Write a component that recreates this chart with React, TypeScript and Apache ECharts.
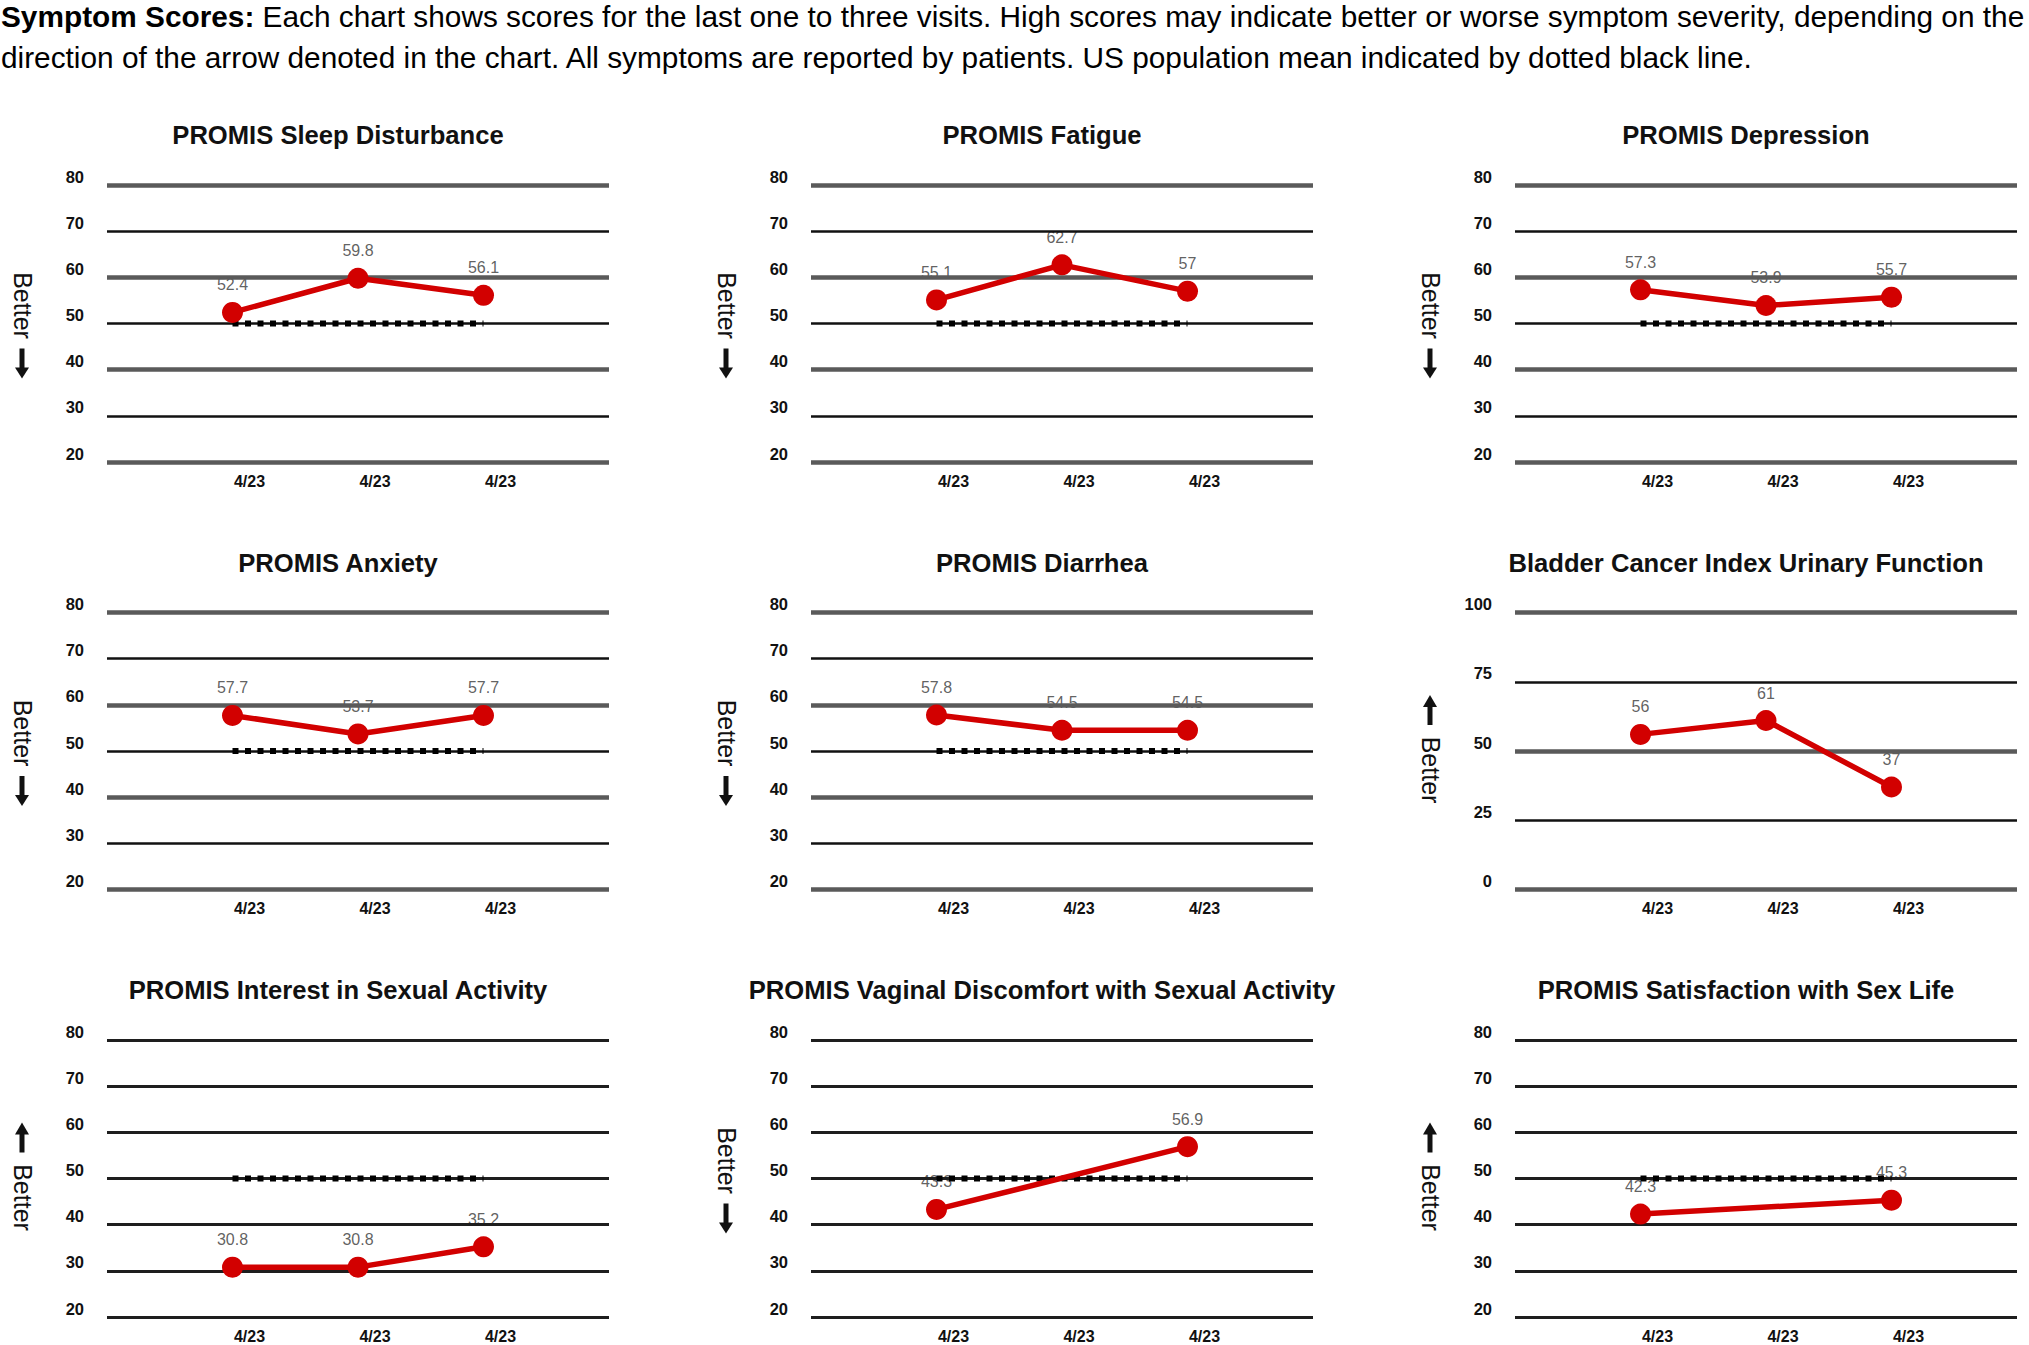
import React, { useEffect, useRef } from 'react';
import * as echarts from 'echarts';

// ---------- data ----------
const visitLabels = ['4/23', '4/23', '4/23'];
const sleepDisturbance = [52.4, 59.8, 56.1];
const fatigue = [55.1, 62.7, 57];
const depression = [57.3, 53.9, 55.7];
const anxiety = [57.7, 53.7, 57.7];
const diarrhea = [57.8, 54.5, 54.5];
const urinaryFunction = [56, 61, 37];
const sexualInterest = [30.8, 30.8, 35.2];
const vaginalDiscomfort = [43.3, null, 56.9];
const sexSatisfaction = [42.3, null, 45.3];
const populationMean = 50;
const promisScale = { min: 20, max: 80, interval: 10 };
const bciScale = { min: 0, max: 100, interval: 25 };

const headerLine1 =
  '{b|Symptom Scores:} Each chart shows scores for the last one to three visits. High scores may indicate better or worse symptom severity, depending on the';
const headerLine2 =
  'direction of the arrow denoted in the chart. All symptoms are reported by patients. US population mean indicated by dotted black line.';

type Panel = {
  title: string;
  values: (number | null)[];
  better: 'up' | 'down';
  scale: { min: number; max: number; interval: number };
  mean: boolean;
};

const panels: Panel[] = [
  { title: 'PROMIS Sleep Disturbance', values: sleepDisturbance, better: 'down', scale: promisScale, mean: true },
  { title: 'PROMIS Fatigue', values: fatigue, better: 'down', scale: promisScale, mean: true },
  { title: 'PROMIS Depression', values: depression, better: 'down', scale: promisScale, mean: true },
  { title: 'PROMIS Anxiety', values: anxiety, better: 'down', scale: promisScale, mean: true },
  { title: 'PROMIS Diarrhea', values: diarrhea, better: 'down', scale: promisScale, mean: true },
  { title: 'Bladder Cancer Index Urinary Function', values: urinaryFunction, better: 'up', scale: bciScale, mean: false },
  { title: 'PROMIS Interest in Sexual Activity', values: sexualInterest, better: 'up', scale: promisScale, mean: true },
  { title: 'PROMIS Vaginal Discomfort with Sexual Activity', values: vaginalDiscomfort, better: 'down', scale: promisScale, mean: true },
  { title: 'PROMIS Satisfaction with Sex Life', values: sexSatisfaction, better: 'up', scale: promisScale, mean: true },
];

// ---------- layout / style ----------
const FONT = '"Liberation Sans", Arial, Helvetica, sans-serif';
const RED = '#d20000';
const GRID_LEFT0 = 107;
const COL_STEP = 704;
const GRID_TOP0 = 185;
const ROW_STEP = 427.5;
const GRID_W = 502;
const GRID_H = 277;

function buildOption() {
  const grid: any[] = [];
  const xAxis: any[] = [];
  const yAxis: any[] = [];
  const series: any[] = [];
  const graphic: any[] = [];

  graphic.push({
    type: 'text',
    x: 1,
    y: 16,
    style: {
      text: headerLine1,
      font: `29.8px ${FONT}`,
      fill: '#000',
      textAlign: 'left',
      textVerticalAlign: 'middle',
      rich: { b: { font: `bold 29.8px ${FONT}`, fill: '#000' } },
    },
  });
  graphic.push({
    type: 'text',
    x: 1,
    y: 57.5,
    style: {
      text: headerLine2,
      font: `29.8px ${FONT}`,
      fill: '#000',
      textAlign: 'left',
      textVerticalAlign: 'middle',
    },
  });

  panels.forEach((p, i) => {
    const col = i % 3;
    const row = Math.floor(i / 3);
    const left = GRID_LEFT0 + col * COL_STEP;
    const top = GRID_TOP0 + row * ROW_STEP;
    const cy = top + GRID_H / 2;

    grid.push({ left, top, width: GRID_W, height: GRID_H });

    xAxis.push({
      gridIndex: i,
      type: 'value',
      min: 0,
      max: 4,
      interval: 1,
      axisLine: { show: false },
      axisTick: { show: false },
      splitLine: { show: false },
      axisLabel: {
        formatter: (v: number) => (v >= 1 && v <= 3 ? visitLabels[v - 1] : ''),
        fontFamily: FONT,
        fontSize: 16,
        fontWeight: 'bold',
        color: '#111',
        margin: 11,
        padding: [0, 0, 0, 34],
      },
    });

    const yIndex = yAxis.length;
    yAxis.push({
      gridIndex: i,
      type: 'value',
      min: p.scale.min,
      max: p.scale.max,
      interval: p.scale.interval,
      z: 2,
      axisLine: { show: false },
      axisTick: { show: false },
      axisLabel: {
        fontFamily: FONT,
        fontSize: 16.5,
        fontWeight: 'bold',
        color: '#111',
        margin: 23,
        verticalAlign: 'bottom',
        lineHeight: 17,
      },
      splitLine: {
        show: true,
        lineStyle: { color: row === 2 ? '#1e1e1e' : '#111', width: row === 2 ? 3 : 2.5 },
      },
    });
    if (row < 2) {
      yAxis.push({
        gridIndex: i,
        type: 'value',
        min: p.scale.min,
        max: p.scale.max,
        interval: p.scale.interval * 2,
        z: 2,
        axisLine: { show: false },
        axisTick: { show: false },
        axisLabel: { show: false },
        splitLine: { show: true, lineStyle: { color: '#5a5a5a', width: 4.5 } },
      });
    }

    const pts = p.values
      .map((v, k) => [k + 1, v])
      .filter((d) => d[1] !== null) as number[][];

    // value labels (under the grid lines like the reference)
    series.push({
      type: 'scatter',
      xAxisIndex: i,
      yAxisIndex: yIndex,
      data: pts,
      symbolSize: 21,
      itemStyle: { color: 'rgba(0,0,0,0)' },
      z: 1,
      silent: true,
      label: {
        show: true,
        position: 'top',
        distance: 9,
        fontFamily: FONT,
        fontSize: 16,
        color: '#383838',
        formatter: (q: any) => String(q.value[1]),
      },
    });

    if (p.mean) {
      series.push({
        type: 'line',
        xAxisIndex: i,
        yAxisIndex: yIndex,
        data: [
          [1, populationMean],
          [3, populationMean],
        ],
        symbol: 'none',
        silent: true,
        z: 3,
        lineStyle: { color: '#000', width: 6, type: [6, 6.5], cap: 'butt' },
      });
    }

    series.push({
      type: 'line',
      xAxisIndex: i,
      yAxisIndex: yIndex,
      data: pts,
      symbol: 'circle',
      symbolSize: 21,
      z: 4,
      lineStyle: { color: RED, width: 5.5 },
      itemStyle: { color: RED },
      label: { show: false },
    });

    // panel title
    graphic.push({
      type: 'text',
      x: left + GRID_W / 2 - 20,
      y: top - 50,
      style: {
        text: p.title,
        font: `bold 25.6px ${FONT}`,
        fill: '#111',
        textAlign: 'center',
        textVerticalAlign: 'middle',
      },
    });

    // "Better" with arrow
    const ax = left - 85;
    const down = p.better === 'down';
    graphic.push({
      type: 'text',
      x: ax + 1,
      y: down ? cy - 18 : cy + 19,
      rotation: -Math.PI / 2,
      style: {
        text: 'Better',
        font: `25px ${FONT}`,
        fill: '#111',
        textAlign: 'center',
        textVerticalAlign: 'middle',
      },
    });
    graphic.push({
      type: 'group',
      x: ax,
      y: cy,
      children: down
        ? [
            { type: 'rect', shape: { x: -2.5, y: 25, width: 5, height: 21 }, style: { fill: '#111' } },
            { type: 'polygon', shape: { points: [[-7, 44], [7, 44], [0, 55]] }, style: { fill: '#111' } },
          ]
        : [
            { type: 'rect', shape: { x: -2.5, y: -45, width: 5, height: 19 }, style: { fill: '#111' } },
            { type: 'polygon', shape: { points: [[-7, -44], [7, -44], [0, -56]] }, style: { fill: '#111' } },
          ],
    });
  });

  return {
    animation: false,
    backgroundColor: '#fff',
    grid,
    xAxis,
    yAxis,
    series,
    graphic,
  };
}

export default function App() {
  const ref = useRef<HTMLDivElement>(null);
  useEffect(() => {
    if (!ref.current) return;
    const chart = echarts.init(ref.current, null, { renderer: 'svg' });
    chart.setOption(buildOption());
    return () => chart.dispose();
  }, []);
  return (
    <div
      ref={ref}
      style={{ position: 'fixed', left: 0, top: 0, width: 2029, height: 1345, background: '#fff' }}
    />
  );
}
